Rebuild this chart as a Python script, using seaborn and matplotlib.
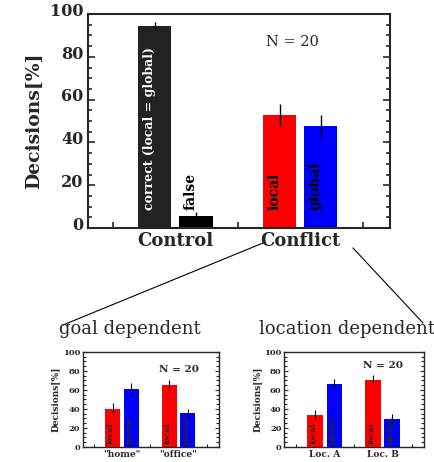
import numpy as np
import pandas as pd
import seaborn as sns
import matplotlib
matplotlib.use("Agg")
import matplotlib.pyplot as plt
from matplotlib.lines import Line2D
from matplotlib.ticker import MultipleLocator, FixedLocator
import matplotlib.transforms as mtransforms

# main chart
main_groups = ["Control", "Control", "Conflict", "Conflict"]
main_labels = ["correct (local = global)", "false", "local", "global"]
main_vals = [94.5, 5.5, 52.8, 47.7]
main_err = [1.6, 2.0, 5.0, 5.0]
main_colors = ["#222222", "#000000", "#ff0000", "#0000ff"]
main_text_colors = ["white", "black", "black", "black"]

# goal dependent
goal_groups = ['"home"', '"home"', '"office"', '"office"']
goal_vals = [39.7, 61.0, 65.2, 35.5]
goal_err = [6.4, 6.0, 5.5, 5.0]

# location dependent
loc_groups = ["Loc. A", "Loc. A", "Loc. B", "Loc. B"]
loc_vals = [34.0, 66.7, 70.9, 29.0]
loc_err = [5.0, 5.0, 5.0, 5.5]

sub_labels = ["local", "global", "local", "global"]
sub_colors = ["#ff0000", "#0000ff", "#ff0000", "#0000ff"]
slots = ["first", "second", "first", "second"]

sns.set_style("ticks")
plt.rcParams["font.family"] = ["DejaVu Serif"]

fig = plt.figure(figsize=(4.34, 4.62), dpi=100)


def draw(ax, groups, vals, errs, colors, lw_err):
    df = pd.DataFrame({"group": groups, "value": vals, "slot": slots})
    sns.barplot(data=df, x="group", y="value", hue="slot", width=0.66, gap=0.19,
                palette=["#888888", "#888888"], saturation=1, errorbar=None,
                legend=False, ax=ax)
    bars = sorted(ax.patches, key=lambda p: p.get_x())
    centers = []
    for p, c in zip(bars, colors):
        p.set_facecolor(c)
        p.set_edgecolor("none")
        centers.append(p.get_x() + p.get_width() / 2)
    ax.errorbar(centers, vals, yerr=errs, fmt="none", ecolor="black",
                elinewidth=lw_err, capsize=0)
    return centers


def style(ax, ylab_size, tick_size, lw, big):
    ax.set_ylim(0, 100)
    ax.set_xlim(-0.7, 1.72)
    ax.yaxis.set_major_locator(MultipleLocator(20))
    ax.yaxis.set_minor_locator(MultipleLocator(5))
    ax.xaxis.set_major_locator(FixedLocator([-0.5, 0.5, 1.5]))
    ax.tick_params(axis="y", which="both", direction="in", right=True, width=lw * 0.8,
                   labelsize=tick_size, pad=3.5 if big else 2)
    ax.tick_params(axis="y", which="major", length=5 if big else 3)
    ax.tick_params(axis="y", which="minor", length=3 if big else 2)
    ax.tick_params(axis="x", which="major", direction="in", length=4 if big else 2.5,
                   width=lw * 0.8, labelbottom=False)
    ax.tick_params(axis="x", which="minor", length=0, pad=3 if big else 2)
    for s in ax.spines.values():
        s.set_linewidth(lw)
        s.set_visible(True)
    ax.set_xlabel("")
    ax.set_ylabel("Decisions[%]", fontsize=ylab_size, fontweight="bold",
                  labelpad=5 if big else 2)
    for t in ax.get_yticklabels():
        t.set_fontweight("bold")


# ---- main ----
ax = fig.add_axes([0.2028, 0.5065, 0.696, 0.463])
centers = draw(ax, main_groups, main_vals, main_err, main_colors, 1.0)
style(ax, 13.5, 11.5, 1.5, True)
ax.set_xticks([0, 1], minor=True)
ax.set_xticklabels(["Control", "Conflict"], minor=True, fontweight="bold", fontsize=13)
off = mtransforms.ScaledTranslation(0, 3.5 / 72, fig.dpi_scale_trans)
for t in ax.get_yticklabels():
    t.set_transform(t.get_transform() + off)
for c, lab, tc in zip(centers, main_labels, main_text_colors):
    ax.text(c - 0.04, 8.5, lab, rotation=90, ha="center", va="bottom",
            color=tc, fontsize=9 if len(lab) > 10 else 10, fontweight="bold")
ax.text(0.94, 87, "N = 20", ha="center", va="center", fontsize=10.5)

# ---- goal dependent ----
ax2 = fig.add_axes([0.1905, 0.0325, 0.3145, 0.2056])
c2 = draw(ax2, goal_groups, goal_vals, goal_err, sub_colors, 0.8)
style(ax2, 6.5, 6, 1.0, False)
ax2.set_xticks([0, 1], minor=True)
ax2.set_xticklabels(['"home"', '"office"'], minor=True, fontweight="bold", fontsize=6.5)
for c, lab in zip(c2, sub_labels):
    ax2.text(c - 0.03, 3, lab, rotation=90, ha="center", va="bottom",
             fontsize=5.8, fontweight="bold")
ax2.text(1.0, 82, "N = 20", ha="center", va="center", fontsize=7.5, fontweight="bold")

# ---- location dependent ----
ax3 = fig.add_axes([0.655, 0.0325, 0.3226, 0.2056])
c3 = draw(ax3, loc_groups, loc_vals, loc_err, sub_colors, 0.8)
style(ax3, 6.5, 6, 1.0, False)
ax3.set_xticks([0, 1], minor=True)
ax3.set_xticklabels(["Loc. A", "Loc. B"], minor=True, fontweight="bold", fontsize=6.5)
for c, lab in zip(c3, sub_labels):
    ax3.text(c - 0.03, 3, lab, rotation=90, ha="center", va="bottom",
             fontsize=5.8, fontweight="bold")
ax3.text(1.0, 86, "N = 20", ha="center", va="center", fontsize=7.5, fontweight="bold")

# panel titles and connector lines
fig.text(130 / 434, 1 - 329 / 462, "goal dependent", ha="center", va="center", fontsize=13)
fig.text(347 / 434, 1 - 329 / 462, "location dependent", ha="center", va="center", fontsize=13)
fig.add_artist(Line2D([263 / 434, 63 / 434], [1 - 243 / 462, 1 - 325 / 462],
                      transform=fig.transFigure, color="black", lw=0.8))
fig.add_artist(Line2D([353 / 434, 423 / 434], [1 - 248 / 462, 1 - 323 / 462],
                      transform=fig.transFigure, color="black", lw=0.8))

fig.savefig("out.png", dpi=100)
